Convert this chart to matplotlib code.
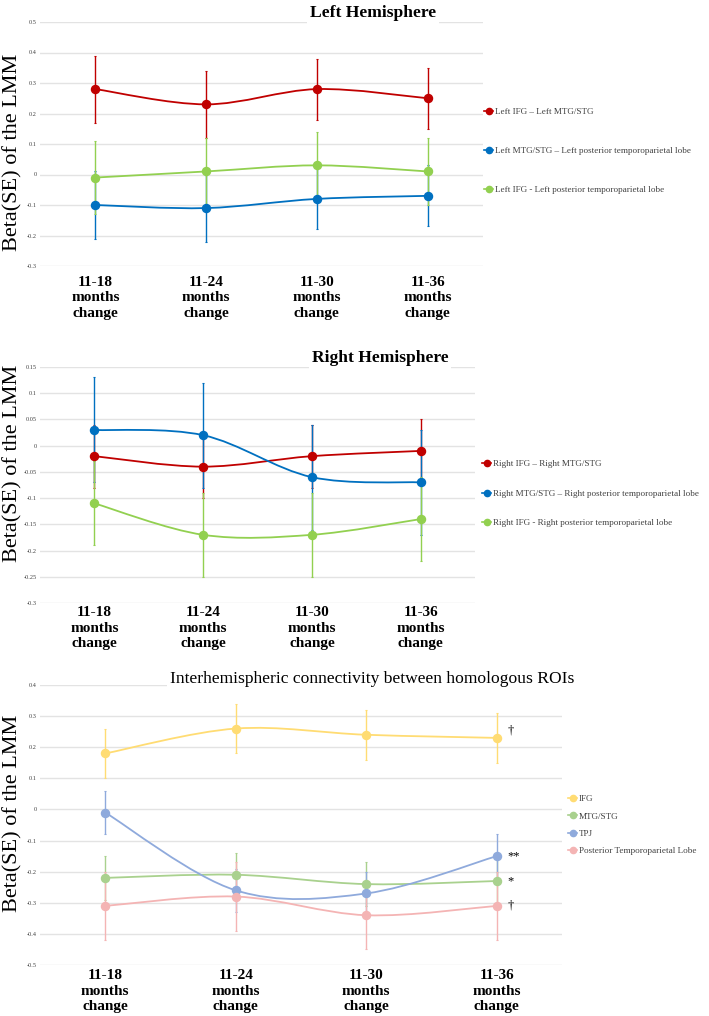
import matplotlib.pyplot as plt
import numpy as np
from matplotlib.path import Path
from matplotlib.patches import PathPatch
from matplotlib.lines import Line2D

plt.rcParams['font.family'] = ['Liberation Serif', 'DejaVu Serif']

# x categories shared by all three panels
categories = ['11-18\nmonths\nchange', '11-24\nmonths\nchange',
              '11-30\nmonths\nchange', '11-36\nmonths\nchange']

# Left hemisphere
left_labels = ['Left IFG – Left MTG/STG',
               'Left MTG/STG – Left posterior temporoparietal lobe',
               'Left IFG - Left posterior temporoparietal lobe']
left_beta = [[0.28, 0.23, 0.28, 0.25],
             [-0.10, -0.11, -0.08, -0.07],
             [-0.01, 0.01, 0.03, 0.01]]
left_se = [[0.11, 0.11, 0.10, 0.10],
           [0.11, 0.11, 0.10, 0.10],
           [0.12, 0.11, 0.11, 0.11]]

# Right hemisphere
right_labels = ['Right IFG – Right MTG/STG',
                'Right MTG/STG – Right posterior temporoparietal lobe',
                'Right IFG - Right posterior temporoparietal lobe']
right_beta = [[-0.02, -0.04, -0.02, -0.01],
              [0.03, 0.02, -0.06, -0.07],
              [-0.11, -0.17, -0.17, -0.14]]
right_se = [[0.06, 0.06, 0.06, 0.06],
            [0.10, 0.10, 0.10, 0.10],
            [0.08, 0.08, 0.08, 0.08]]

# Interhemispheric
inter_labels = ['IFG', 'MTG/STG', 'TPJ', 'Posterior Temporoparietal Lobe']
inter_beta = [[0.18, 0.26, 0.24, 0.23],
              [-0.22, -0.21, -0.24, -0.23],
              [-0.01, -0.26, -0.27, -0.15],
              [-0.31, -0.28, -0.34, -0.31]]
inter_se = [[0.08, 0.08, 0.08, 0.08],
            [0.07, 0.07, 0.07, 0.07],
            [0.07, 0.07, 0.07, 0.07],
            [0.11, 0.11, 0.11, 0.11]]
inter_marks = ['†', '*', '**', '†']

hemi_colors = ['#C00000', '#0070C0', '#92D050']
inter_colors = ['#FFDC73', '#A9D18E', '#8FAADC', '#F4B4B4']

W, H = 709, 1016
fig = plt.figure(figsize=(W / 100, H / 100), dpi=100)


def px_axes(left, top, right, bottom):
    return fig.add_axes([left / W, 1 - bottom / H, (right - left) / W, (bottom - top) / H])


def smooth_line(ax, x, y, color, lw):
    # Excel-style smoothed line: cubic Bezier segments through the points
    x = np.asarray(x, float)
    y = np.asarray(y, float)
    n = len(x)
    verts = [(x[0], y[0])]
    codes = [Path.MOVETO]
    for i in range(n - 1):
        x0, y0 = (x[i - 1], y[i - 1]) if i > 0 else (x[i], y[i])
        x3, y3 = (x[i + 2], y[i + 2]) if i + 2 < n else (x[i + 1], y[i + 1])
        c1 = (x[i] + (x[i + 1] - x0) / 6, y[i] + (y[i + 1] - y0) / 6)
        c2 = (x[i + 1] - (x3 - x[i]) / 6, y[i + 1] - (y3 - y[i]) / 6)
        verts += [c1, c2, (x[i + 1], y[i + 1])]
        codes += [Path.CURVE4] * 3
    ax.add_patch(PathPatch(Path(verts, codes), fill=False, edgecolor=color, lw=lw, zorder=3))


def panel(ax, betas, ses, colors, ylim, step, title, title_xy, title_weight,
          labels, leg_xy, leg_spacing, ylabel_y, xpad):
    x = np.arange(len(categories))
    ax.set_xlim(-0.5, len(categories) - 0.5)
    ax.set_ylim(*ylim)
    ticks = np.round(np.arange(ylim[0], ylim[1] + step / 2, step), 3) + 0.0
    ax.set_yticks(ticks)
    ax.set_yticklabels([('%g' % (0 if abs(t) < 1e-9 else t)) for t in ticks],
                       fontsize=4.5, color='#404040')
    ax.set_xticks(x)
    ax.set_xticklabels(categories, fontsize=11, fontweight='bold', linespacing=1.25)
    ax.tick_params(length=0, pad=2.5)
    ax.tick_params(axis='x', pad=xpad)
    ax.grid(axis='y', color='#E3E3E3', lw=1)
    ax.set_axisbelow(True)
    for s in ax.spines.values():
        s.set_visible(False)
    handles = []
    for b, e, c in zip(betas, ses, colors):
        ax.errorbar(x, b, yerr=e, fmt='none', ecolor=c, elinewidth=1, capsize=1,
                    capthick=0.8, zorder=2)
        smooth_line(ax, x, b, c, 1.3)
        ax.plot(x, b, 'o', color=c, ms=5.8, zorder=4)
        handles.append(Line2D([], [], color=c, marker='o', ms=4.5, lw=1.2))
    fig.text(title_xy[0] / W, 1 - title_xy[1] / H, title, ha='center', va='center',
             fontsize=12.6, fontweight=title_weight,
             bbox=dict(facecolor='white', edgecolor='none', pad=2))
    fig.text(13 / W, 1 - ylabel_y / H, 'Beta(SE) of the LMM', rotation=90,
             ha='center', va='center', fontsize=16)
    leg = fig.legend(handles, labels, loc='upper left',
                     bbox_to_anchor=(leg_xy[0] / W, 1 - leg_xy[1] / H),
                     frameon=False, fontsize=6.6, handlelength=1.0, handletextpad=0.2,
                     labelspacing=leg_spacing, borderaxespad=0, borderpad=0)
    for t in leg.get_texts():
        t.set_color('#404040')
    return x


ax1 = px_axes(40, 22, 483, 266)
panel(ax1, left_beta, left_se, hemi_colors, (-0.3, 0.5), 0.1, 'Left Hemisphere',
      (373, 13), 'bold', left_labels, (484, 108), 3.3, 152, 7)

ax2 = px_axes(40, 367, 475, 603)
panel(ax2, right_beta, right_se, hemi_colors, (-0.3, 0.15), 0.05, 'Right Hemisphere',
      (380, 358), 'bold', right_labels, (482, 460), 2.28, 463, 2.5)

ax3 = px_axes(40, 685, 562, 965)
x3 = panel(ax3, inter_beta, inter_se, inter_colors, (-0.5, 0.4), 0.1,
           'Interhemispheric connectivity between homologous ROIs',
           (372, 679), 'normal', inter_labels, (568, 795), 0.96, 813, 3)
for b, m in zip(inter_beta, inter_marks):
    ax3.annotate(m, (x3[-1], b[-1]), xytext=(8, 5 if m == '†' and b[-1] > 0 else 0),
                 textcoords='offset points', ha='left', va='center', fontsize=9)

fig.savefig('out.png', dpi=100)
